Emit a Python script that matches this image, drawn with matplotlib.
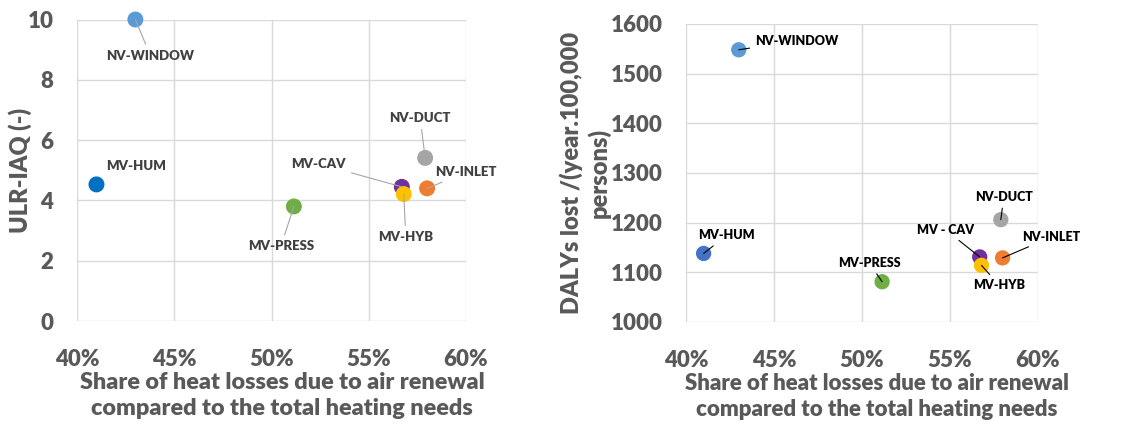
import matplotlib
matplotlib.use("Agg")
import matplotlib.pyplot as plt
import matplotlib.ticker as mticker

# ======================================================
# DATA
# ======================================================
systems    = ["NV-WINDOW", "MV-HUM", "MV-PRESS", "MV-CAV", "MV-HYB", "NV-DUCT", "NV-INLET"]
heat_share = [43.0, 41.0, 51.15, 56.7, 56.8, 57.9, 58.0]      # %
ulr_iaq    = [10.0, 4.53, 3.8, 4.45, 4.21, 5.41, 4.40]
dalys      = [1548, 1138, 1081, 1131, 1114, 1206, 1129]
labels_right = ["NV-WINDOW", "MV-HUM", "MV-PRESS", "MV - CAV", "MV-HYB", "NV-DUCT", "NV-INLET"]

colors_left  = ["#5B9BD5", "#0070C0", "#70AD47", "#7030A0", "#FFC000", "#A5A5A5", "#ED7D31"]
colors_right = ["#5B9BD5", "#4472C4", "#70AD47", "#7030A0", "#FFC000", "#A5A5A5", "#ED7D31"]

# label offsets in pixels (dx, dy), and whether a leader line is drawn
offs_left  = [(15, -36), (40, 18), (-13, -40), (-83, 23), (2, -43), (-5, 40), (39, 16)]
lead_left  = [True, False, True, True, True, True, True]
offs_right = [(58, 9), (23, 18), (-13, 19), (-34, 27), (18, -20), (3, 23), (49, 21)]

XLABEL = "Share of heat losses due to air renewal\ncompared to the total heating needs"

# ======================================================
# STYLE
# ======================================================
plt.rcParams.update({
    "font.family": "Lato",
    "font.weight": "heavy",
    "axes.labelweight": "heavy",
})
TXT = "#595959"
GRID = "#D9D9D9"

fig = plt.figure(figsize=(11.36, 4.28), dpi=100)


def style_axes(ax, xlabel_size, xlabel_x):
    for s in ax.spines.values():
        s.set_visible(False)
    ax.grid(True, color=GRID, linewidth=1.0)
    ax.set_axisbelow(True)
    ax.tick_params(length=0, labelsize=16, labelcolor=TXT)
    ax.tick_params(axis="x", pad=20)
    ax.tick_params(axis="y", pad=17)
    ax.set_xlim(40, 60)
    ax.xaxis.set_major_locator(mticker.MultipleLocator(5))
    ax.xaxis.set_major_formatter(mticker.PercentFormatter(xmax=100, decimals=0))
    ax.set_xlabel(XLABEL, fontsize=xlabel_size, color=TXT, linespacing=1.3)
    ax.xaxis.set_label_coords(xlabel_x, -0.17)


# ── left: ULR-IAQ ───────────────────────────────────
ax1 = fig.add_axes([0.0678, 0.25, 0.3424, 0.7044])
style_axes(ax1, 16.8, 0.527)
ax1.set_ylim(0, 10)
ax1.yaxis.set_major_locator(mticker.MultipleLocator(2))
ax1.set_ylabel("ULR-IAQ (-)", fontsize=17, color=TXT)
ax1.yaxis.set_label_coords(-0.115, 0.5)
ax1.scatter(heat_share, ulr_iaq, s=110, c=colors_left, zorder=3, clip_on=False)
for name, x, y, (dx, dy), lead in zip(systems, heat_share, ulr_iaq, offs_left, lead_left):
    ax1.annotate(name, xy=(x, y), xytext=(dx, dy), textcoords="offset pixels",
                 ha="center", va="center", fontsize=9.5, color="#404040",
                 arrowprops=dict(arrowstyle="-", color="#A6A6A6", lw=0.8,
                                 shrinkA=2, shrinkB=0) if lead else None,
                 zorder=4)

# ── right: DALYs ────────────────────────────────────
ax2 = fig.add_axes([0.6039, 0.2477, 0.3096, 0.6963])
style_axes(ax2, 16, 0.543)
ax2.set_ylim(1000, 1600)
ax2.yaxis.set_major_locator(mticker.MultipleLocator(100))
ax2.set_ylabel("DALYs lost /(year.100,000\npersons)", fontsize=17, color=TXT,
               linespacing=1.2)
ax2.yaxis.set_label_coords(-0.215, 0.5)
ax2.scatter(heat_share, dalys, s=100, c=colors_right, zorder=3, clip_on=False)
for name, x, y, (dx, dy) in zip(labels_right, heat_share, dalys, offs_right):
    ax2.annotate(name, xy=(x, y), xytext=(dx, dy), textcoords="offset pixels",
                 ha="center", va="center", fontsize=9, color="black",
                 arrowprops=dict(arrowstyle="-", color="black", lw=0.8,
                                 shrinkA=2, shrinkB=0),
                 zorder=4)

fig.savefig("out.png", dpi=100)
